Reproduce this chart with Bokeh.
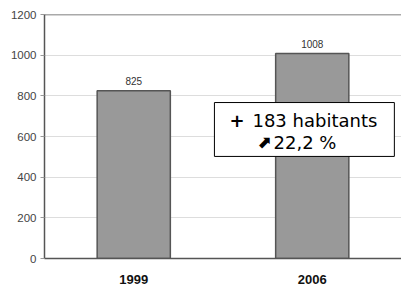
from bokeh.plotting import figure
from bokeh.models import ColumnDataSource, FactorRange, Range1d, FixedTicker, Span, BoxAnnotation, Label
from bokeh.embed import file_html
from bokeh.resources import INLINE
from bokeh.core.properties import value

years = ["1999", "2006"]
population = [825, 1008]
y_ticks = [0, 200, 400, 600, 800, 1000, 1200]
plus_text = "+"
delta_text = "183 habitants"
arrow_text = "\u2b08"
pct_text = "22,2 %"

src = ColumnDataSource(dict(year=years, pop=population, lbl=[str(v) for v in population]))

p = figure(width=401, height=289,
           x_range=FactorRange(factors=years),
           y_range=Range1d(0, y_ticks[-1]),
           output_backend="svg", toolbar_location=None,
           min_border_left=44, min_border_right=0, min_border_top=14, min_border_bottom=31)

p.outline_line_color = None
p.background_fill_color = "white"
p.border_fill_color = "white"

p.vbar(x="year", top="pop", width=0.41, source=src,
       fill_color="#999999", line_color="#555555", line_width=1.5)

p.text(x="year", y="pop", text="lbl", source=src, text_align="center", text_baseline="bottom",
       y_offset=-6, text_font_size="10px", text_color="#333333", text_font=value("Liberation Sans"))

# axes
p.yaxis.ticker = FixedTicker(ticks=y_ticks)
p.yaxis.axis_line_color = "#555555"
p.yaxis.axis_line_width = 1.5
p.yaxis.major_tick_out = 4
p.yaxis.major_tick_in = 0
p.yaxis.major_tick_line_color = "#999999"
p.yaxis.minor_tick_line_color = None
p.yaxis.major_label_standoff = 4
p.yaxis.major_label_text_font = "Liberation Sans"
p.yaxis.major_label_text_font_size = "11.5px"
p.yaxis.major_label_text_color = "#444444"

p.xaxis.axis_line_color = "#555555"
p.xaxis.axis_line_width = 1.5
p.xaxis.major_tick_line_color = None
p.xaxis.major_tick_out = 0
p.xaxis.major_tick_in = 0
p.xaxis.major_label_standoff = 16
p.xaxis.major_label_text_font = "Liberation Sans"
p.xaxis.major_label_text_font_style = "bold"
p.xaxis.major_label_text_font_size = "13px"
p.xaxis.major_label_text_color = "#111111"

p.xgrid.grid_line_color = None
p.ygrid.grid_line_color = "#dddddd"
p.ygrid.grid_line_width = 1

p.add_layout(Span(location=y_ticks[-1], dimension="width", line_color="#555555", line_width=1.5))

# annotation box
p.add_layout(BoxAnnotation(left=0.952, right=1.960, bottom=502, top=767,
                           fill_color="white", fill_alpha=1.0,
                           line_color="black", line_alpha=1.0, line_width=1))
fs = "18px"
fnt = "DejaVu Sans"
p.add_layout(Label(x=1.036, y=679, text=plus_text, text_font=fnt, text_font_size=fs,
                   text_font_style="bold", text_color="black", text_baseline="alphabetic"))
p.add_layout(Label(x=1.165, y=679, text=delta_text, text_font=fnt, text_font_size=fs,
                   text_color="black", text_baseline="alphabetic"))
p.add_layout(Label(x=1.190, y=571, text=arrow_text, text_font=fnt, text_font_size="17px",
                   text_font_style="bold", text_color="black", text_baseline="alphabetic"))
p.add_layout(Label(x=1.283, y=571, text=pct_text, text_font=fnt, text_font_size=fs,
                   text_color="black", text_baseline="alphabetic"))

open("out.html", "w").write(file_html(p, INLINE))
